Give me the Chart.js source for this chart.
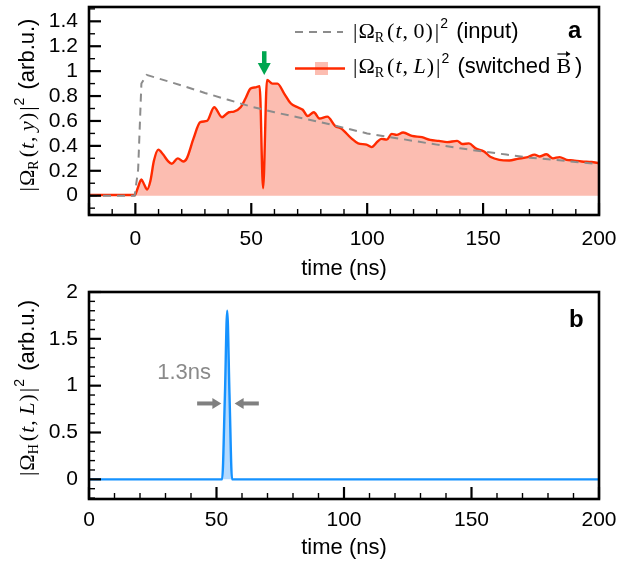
<!DOCTYPE html>
<html>
<head>
<meta charset="utf-8">
<script src="https://cdn.jsdelivr.net/npm/chart.js@4/dist/chart.umd.min.js"></script>
<style>
html,body{margin:0;padding:0;background:#fff;}
#wrap{position:relative;width:621px;height:569px;}
.box{position:absolute;left:0;width:621px;}
</style>
</head>
<body>
<div id="wrap">
  <div class="box" style="top:0;height:284px"><canvas id="top"></canvas></div>
  <div class="box" style="top:284px;height:285px"><canvas id="bot"></canvas></div>
</div>
<script>
// --- data --- //
const inputTime = [-20, -0.3, 1.2, 2.6, 4.8, 20, 30, 40, 50, 60, 70, 80, 90, 100, 110, 120, 130, 140, 150, 160, 170, 180, 190, 200];
const inputVals = [0, 0, 0.21, 0.90, 0.97, 0.885, 0.825, 0.77, 0.715, 0.67, 0.63, 0.59, 0.545, 0.50, 0.47, 0.44, 0.41, 0.38, 0.355, 0.33, 0.305, 0.29, 0.27, 0.255];

const outTime = [-20, -1, 0, 1, 2.6, 3.8, 5.1, 6.5, 8, 9.9, 12, 14, 15.7, 18.3, 20.7, 22.2, 25.1, 28, 30.9, 34, 37.4, 40.3, 42.5, 45.4, 47.5, 49.7, 51.9, 53.6, 55.1, 56.8, 59.1, 61.3, 64.2, 67.1, 70, 72.2, 74.3, 77, 79.4, 82.8, 86.2, 88.8, 93.2, 96.1, 99.7, 101.9, 104.5, 106.2, 108.4, 110.6, 112.7, 115.5, 119.3, 123.6, 127.2, 130.9, 134.5, 138.8, 141, 143.9, 146.8, 150.4, 153.3, 157, 161.3, 164.9, 169.3, 172.2, 174.3, 177.3, 180.1, 183, 186, 188.8, 192.5, 196.8, 200];
const outVals = [0.005, 0.005, 0.01, 0.06, 0.13, 0.09, 0.05, 0.12, 0.28, 0.37, 0.33, 0.28, 0.256, 0.30, 0.275, 0.30, 0.46, 0.59, 0.60, 0.71, 0.63, 0.67, 0.675, 0.71, 0.78, 0.86, 0.87, 0.88, 0.06, 0.93, 0.90, 0.90, 0.82, 0.74, 0.71, 0.69, 0.64, 0.67, 0.62, 0.635, 0.56, 0.54, 0.46, 0.42, 0.41, 0.39, 0.435, 0.456, 0.45, 0.496, 0.488, 0.507, 0.48, 0.47, 0.448, 0.44, 0.43, 0.44, 0.415, 0.42, 0.38, 0.355, 0.31, 0.288, 0.283, 0.296, 0.31, 0.33, 0.315, 0.333, 0.30, 0.31, 0.288, 0.283, 0.275, 0.27, 0.262];

const hTime = [0, 52.2, 53.3, 54.2, 55.1, 56.1, 200];
const hVals = [0, 0, 0.9, 1.8, 0.9, 0, 0];

const xTicksTop = [0, 50, 100, 150, 200];
const yTicksTop = [0, 0.2, 0.4, 0.6, 0.8, 1, 1.2, 1.4];
const xTicksBot = [0, 50, 100, 150, 200];
const yTicksBot = [0, 0.5, 1, 1.5, 2];

const SANS = '"Liberation Sans", Arial, sans-serif';
const SERIF = '"Liberation Serif", "DejaVu Serif", serif';
const M = '22px ' + SERIF, MI = 'italic 22px ' + SERIF, MS = '14px ' + SERIF, SUP = '14px ' + SANS, TXT = '22px ' + SANS;

function pts(xs, ys){ return xs.map((x,i)=>({x:x, y:ys[i]})); }

function omega(sub, b, bItalic){
  return [
    {t:'|', f:M, gap:1}, {t:'Ω', f:M}, {t:sub, f:MS, dy:4, gap:3}, {t:'(', f:M, gap:1},
    {t:'t', f:MI, gap:1}, {t:', ', f:M}, {t:b, f:bItalic?MI:M, gap:1}, {t:')', f:M, gap:2},
    {t:'|', f:M, gap:1}, {t:'2', f:SUP, dy:-10, gap:2}
  ];
}

function partsWidth(ctx, parts){
  let w = 0;
  parts.forEach(p=>{ ctx.font = p.f; w += ctx.measureText(p.t).width + (p.gap||0); });
  return w;
}

function drawParts(ctx, parts, x, y){
  parts.forEach(p=>{
    ctx.font = p.f;
    const w = ctx.measureText(p.t).width;
    ctx.fillText(p.t, x, y + (p.dy||0));
    if(p.vec){
      // vector arrow over B
      const yy = y - 19;
      ctx.save(); ctx.lineWidth = 1.2; ctx.strokeStyle = ctx.fillStyle;
      ctx.beginPath(); ctx.moveTo(x+1, yy); ctx.lineTo(x+w-1, yy); ctx.stroke();
      ctx.beginPath(); ctx.moveTo(x+w-1, yy); ctx.lineTo(x+w-5, yy-3); ctx.lineTo(x+w-5, yy+3); ctx.closePath(); ctx.fill();
      ctx.restore();
    }
    x += w + (p.gap||0);
  });
}

function drawRotTitle(ctx, parts, cx, cy){
  ctx.save();
  ctx.fillStyle = '#000'; ctx.textBaseline = 'alphabetic'; ctx.textAlign = 'left';
  ctx.translate(cx, cy); ctx.rotate(-Math.PI/2);
  drawParts(ctx, parts, -partsWidth(ctx, parts)/2, 0);
  ctx.restore();
}

function arrow(ctx, x1, y1, x2, y2, w, hl, hw, color){
  const ang = Math.atan2(y2-y1, x2-x1), len = Math.hypot(x2-x1, y2-y1);
  ctx.save(); ctx.translate(x1, y1); ctx.rotate(ang); ctx.fillStyle = color;
  ctx.fillRect(0, -w/2, len-hl+1, w);
  ctx.beginPath(); ctx.moveTo(len, 0); ctx.lineTo(len-hl, -hw); ctx.lineTo(len-hl, hw); ctx.closePath(); ctx.fill();
  ctx.restore();
}

function frameAndTicks(chart, xMajor, xStep, yMajor, yStep){
  const {ctx, chartArea:a, scales:{x, y}} = chart;
  ctx.save(); ctx.strokeStyle = '#000';
  const isMajor = (arr, v) => arr.some(m => Math.abs(m-v) < 1e-6);
  for(let i = Math.ceil(x.min/xStep - 1e-9); i*xStep <= x.max + 1e-9; i++){
    const v = i*xStep, p = x.getPixelForValue(v), maj = isMajor(xMajor, v);
    ctx.lineWidth = maj ? 2.2 : 1.4;
    ctx.beginPath(); ctx.moveTo(p, a.bottom); ctx.lineTo(p, a.bottom - (maj ? 12 : 6)); ctx.stroke();
  }
  for(let i = Math.ceil(y.min/yStep - 1e-9); i*yStep <= y.max + 1e-9; i++){
    const v = i*yStep, p = y.getPixelForValue(v), maj = isMajor(yMajor, v);
    ctx.lineWidth = maj ? 2.2 : 1.4;
    ctx.beginPath(); ctx.moveTo(a.left, p); ctx.lineTo(a.left + (maj ? 12 : 6), p); ctx.stroke();
  }
  ctx.lineWidth = 2.6;
  ctx.strokeRect(a.left, a.top, a.right - a.left, a.bottom - a.top);
  ctx.restore();
}

const fmt = v => Number.isInteger(v) ? String(v) : String(+v.toFixed(2));

function axes(xmin, xmax, xt, ymin, ymax, yt, xh, tickPad, titlePad){
  return {
    x: {type:'linear', min:xmin, max:xmax,
        afterBuildTicks: s => { s.ticks = xt.map(v=>({value:v})); },
        afterFit: s => { s.height = xh; s.paddingLeft = 0; s.paddingRight = 0; },
        grid:{display:false, drawTicks:false}, border:{display:false},
        ticks:{padding:tickPad, autoSkip:false, maxRotation:0, color:'#000', font:{family:SANS, size:21}, callback:fmt},
        title:{display:true, text:'time (ns)', color:'#000', font:{family:SANS, size:22}, padding:{top:0, bottom:titlePad}}},
    y: {type:'linear', min:ymin, max:ymax,
        afterBuildTicks: s => { s.ticks = yt.map(v=>({value:v})); },
        afterFit: s => { s.width = 89; s.paddingTop = 0; s.paddingBottom = 0; },
        grid:{display:false, drawTicks:false}, border:{display:false},
        ticks:{padding:11, autoSkip:false, color:'#000', font:{family:SANS, size:21}, callback:fmt}}
  };
}

const topDecor = {
  id:'topDecor',
  afterDraw(chart){
    const {ctx, scales:{x, y}} = chart;
    frameAndTicks(chart, [-20, 0, 50, 100, 150, 200], 10, yTicksTop, 0.1);
    drawRotTitle(ctx, omega('R', 'y', true).concat([{t:' (arb.u.)', f:TXT}]), 34, 105);
    // legend
    ctx.save();
    ctx.strokeStyle = '#8c8c8c'; ctx.lineWidth = 2; ctx.setLineDash([8, 6]);
    ctx.beginPath(); ctx.moveTo(295, 32); ctx.lineTo(343, 32); ctx.stroke();
    ctx.setLineDash([]);
    ctx.fillStyle = '#fcbdb1'; ctx.fillRect(315, 62, 13, 13);
    ctx.strokeStyle = '#ff2a00'; ctx.lineWidth = 2.4;
    ctx.beginPath(); ctx.moveTo(295, 68.5); ctx.lineTo(345, 68.5); ctx.stroke();
    ctx.fillStyle = '#000'; ctx.textBaseline = 'alphabetic'; ctx.textAlign = 'left';
    drawParts(ctx, omega('R', '0', false).concat([{t:' (input)', f:TXT}]), 353, 38);
    drawParts(ctx, omega('R', 'L', true).concat([{t:' (switched ', f:TXT}, {t:'B', f:M, vec:true, gap:4}, {t:')', f:TXT}]), 353, 73);
    ctx.font = 'bold 24px ' + SANS;
    ctx.fillText('a', 568, 38);
    ctx.restore();
    // green marker arrow over the dip
    const gx = x.getPixelForValue(55.6);
    arrow(ctx, gx, y.getPixelForValue(1.16), gx, y.getPixelForValue(0.97), 4.5, 12, 6.5, '#00a650');
  }
};

const botDecor = {
  id:'botDecor',
  afterDraw(chart){
    const {ctx, scales:{x, y}} = chart;
    frameAndTicks(chart, xTicksBot, 10, yTicksBot, 0.1);
    drawRotTitle(ctx, omega('H', 'L', true).concat([{t:' (arb.u.)', f:TXT}]), 34, 104);
    ctx.save();
    ctx.fillStyle = '#8a8a8a'; ctx.font = '22px ' + SANS; ctx.textAlign = 'center'; ctx.textBaseline = 'middle';
    ctx.fillText('1.3ns', x.getPixelForValue(37.3), y.getPixelForValue(1.14));
    const ay = y.getPixelForValue(0.81);
    arrow(ctx, x.getPixelForValue(42.4), ay, x.getPixelForValue(51.9), ay, 4, 9, 5.5, '#808080');
    arrow(ctx, x.getPixelForValue(66.6), ay, x.getPixelForValue(57.1), ay, 4, 9, 5.5, '#808080');
    ctx.fillStyle = '#000'; ctx.font = 'bold 24px ' + SANS; ctx.textAlign = 'left'; ctx.textBaseline = 'alphabetic';
    ctx.fillText('b', 569, 43);
    ctx.restore();
  }
};

new Chart(document.getElementById('top'), {
  type:'line',
  data:{datasets:[
    {label:'input', data:pts(inputTime, inputVals), borderColor:'#8c8c8c', borderWidth:2, borderDash:[8,6],
     pointRadius:0, fill:false, tension:0},
    {label:'switched', data:pts(outTime, outVals), borderColor:'#ff2a00', borderWidth:2.4,
     backgroundColor:'#fcbdb1', pointRadius:0, fill:'origin', cubicInterpolationMode:'monotone'}
  ]},
  options:{
    responsive:true, maintainAspectRatio:false, animation:false,
    layout:{padding:{left:0, right:22, top:7, bottom:0}},
    plugins:{legend:{display:false}, tooltip:{enabled:false}},
    scales: axes(-20, 200, xTicksTop, -0.155, 1.515, yTicksTop, 69, 12, 2)
  },
  plugins:[topDecor]
});

new Chart(document.getElementById('bot'), {
  type:'line',
  data:{datasets:[
    {label:'H', data:pts(hTime, hVals), borderColor:'#1592ff', borderWidth:2.4,
     backgroundColor:'rgba(40,150,255,0.35)', pointRadius:0, fill:'origin', cubicInterpolationMode:'monotone'}
  ]},
  options:{
    responsive:true, maintainAspectRatio:false, animation:false,
    layout:{padding:{left:0, right:22, top:8, bottom:0}},
    plugins:{legend:{display:false}, tooltip:{enabled:false}},
    scales: axes(0, 200, xTicksBot, -0.21, 2, yTicksBot, 70, 9, 8)
  },
  plugins:[botDecor]
});
</script>
</body>
</html>
